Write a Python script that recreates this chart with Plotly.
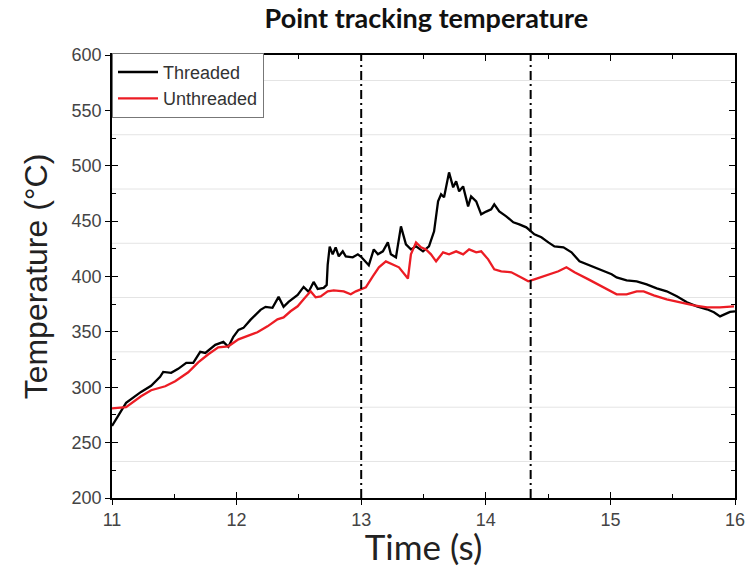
import plotly.graph_objects as go

# ---- data ----
threaded_t = [11.0, 11.113, 11.233, 11.314, 11.386, 11.411, 11.475, 11.531, 11.596, 11.652,
              11.708, 11.749, 11.829, 11.894, 11.934, 11.974, 12.015, 12.055, 12.111, 12.192,
              12.232, 12.288, 12.337, 12.377, 12.417, 12.490, 12.538, 12.578, 12.618, 12.651,
              12.699, 12.723, 12.731, 12.747, 12.771, 12.795, 12.820, 12.852, 12.876, 12.932,
              12.973, 12.997, 13.061, 13.101, 13.134, 13.174, 13.214, 13.238, 13.279, 13.319,
              13.359, 13.399, 13.440, 13.496, 13.544, 13.585, 13.617, 13.641, 13.665, 13.705,
              13.738, 13.762, 13.786, 13.818, 13.858, 13.882, 13.923, 13.963, 14.003, 14.043,
              14.068, 14.108, 14.164, 14.221, 14.269, 14.325, 14.390, 14.446, 14.502, 14.551,
              14.623, 14.688, 14.752, 14.849, 14.945, 15.010, 15.050, 15.130, 15.211, 15.291,
              15.372, 15.452, 15.533, 15.614, 15.694, 15.775, 15.831, 15.880, 15.920, 15.960, 16.0]
threaded_T = [265, 285.9, 295.8, 301.3, 309.4, 313.9, 313.0, 316.6, 322.0, 322.0,
              332.0, 331.0, 338.3, 341.0, 336.5, 345.5, 351.8, 353.6, 360.8, 369.9,
              372.6, 371.7, 381.6, 372.6, 377.1, 383.4, 390.6, 386.1, 395.1, 388.8,
              389.7, 392.4, 410.5, 427.0, 420.0, 426.3, 418.2, 422.7, 418.2, 417.3,
              420.0, 418.0, 410.2, 424.5, 420.0, 422.7, 430.8, 420.0, 417.3, 445.3,
              429.0, 424.5, 427.2, 422.7, 427.2, 440.8, 467.8, 474.2, 471.5, 494.0,
              480.5, 485.9, 476.9, 481.4, 463.3, 472.4, 467.8, 456.1, 458.6, 460.6,
              465.1, 458.8, 454.3, 448.9, 447.1, 444.4, 438.1, 435.4, 430.8, 427.2,
              426.3, 421.8, 413.7, 409.2, 404.7, 402.0, 399.2, 396.5, 395.6, 392.9,
              389.3, 386.6, 382.1, 376.7, 373.1, 370.4, 367.7, 364.0, 366.0, 368.0, 368.5]

unthreaded_t = [11.0, 11.113, 11.233, 11.314, 11.427, 11.507, 11.612, 11.692, 11.773, 11.853,
                11.934, 12.015, 12.167, 12.248, 12.328, 12.377, 12.433, 12.490, 12.538, 12.594,
                12.634, 12.675, 12.731, 12.779, 12.860, 12.916, 12.957, 13.037, 13.093, 13.142,
                13.198, 13.254, 13.303, 13.375, 13.399, 13.440, 13.480, 13.520, 13.560, 13.601,
                13.657, 13.705, 13.762, 13.818, 13.866, 13.923, 13.963, 14.019, 14.068, 14.124,
                14.205, 14.285, 14.341, 14.390, 14.502, 14.583, 14.647, 14.712, 14.824, 14.929,
                15.010, 15.050, 15.130, 15.211, 15.267, 15.348, 15.452, 15.557, 15.670, 15.775,
                15.879, 15.992]
unthreaded_T = [281, 282, 291.8, 297.3, 300.9, 305.4, 313.5, 322.5, 329.8, 336.1,
                337.0, 343.3, 349.6, 355.0, 361.3, 363.1, 368.6, 373.1, 379.4, 386.6,
                381.2, 382.1, 386.6, 387.5, 386.6, 383.9, 386.6, 390.2, 400.2, 408.3,
                413.7, 411.0, 408.3, 398.2, 420.0, 430.8, 426.3, 424.5, 420.0, 413.7,
                421.8, 420.0, 422.7, 420.0, 424.5, 421.8, 422.7, 415.5, 406.5, 404.7,
                403.8, 399.2, 395.6, 397.4, 402.0, 404.7, 408.3, 403.8, 397.4, 391.1,
                386.6, 383.9, 383.9, 386.6, 386.6, 383.0, 379.4, 376.7, 374.0, 372.2,
                372.1, 373.0]

marker_times = [13.0, 14.36]
y_ticks = [200, 250, 300, 350, 400, 450, 500, 550, 600]
x_ticks = [11, 12, 13, 14, 15, 16]
x_range = [11, 16]
y_range = [200, 600]
faint_rules = [233, 282, 332, 381, 430, 479, 528, 577]

fig = go.Figure()
fig.add_trace(go.Scatter(x=threaded_t, y=threaded_T, mode="lines", name="Threaded",
                         line=dict(color="black", width=2.3)))
fig.add_trace(go.Scatter(x=unthreaded_t, y=unthreaded_T, mode="lines", name="Unthreaded",
                         line=dict(color="#ec1c24", width=2.3)))
# empty trace so the overlay (inside-tick) axes are drawn
fig.add_trace(go.Scatter(x=[], y=[], xaxis="x2", yaxis="y2", showlegend=False, hoverinfo="skip"))

for v in faint_rules:
    fig.add_shape(type="line", xref="paper", x0=0, x1=1, yref="y", y0=v, y1=v,
                  line=dict(color="#e4e4e4", width=1), layer="below")
for t in marker_times:
    fig.add_shape(type="line", xref="x", x0=t, x1=t, yref="paper", y0=0, y1=1,
                  line=dict(color="black", width=2, dash="9px,4px,2px,4px"))

tickfont = dict(family="Liberation Sans, Arial", size=18, color="#444")

fig.update_layout(
    width=748, height=567,
    margin=dict(l=112, r=13, t=55, b=69),
    paper_bgcolor="white", plot_bgcolor="white",
    title=dict(text="<b>Point tracking temperature</b>", x=0.57, xanchor="center", y=0.968,
               yanchor="middle", font=dict(family="Lato, Open Sans", size=27, color="#111")),
    legend=dict(x=0.0, y=1.005, xanchor="left", yanchor="top", bgcolor="white",
                bordercolor="#777", borderwidth=1,
                font=dict(family="Liberation Sans, Arial", size=18, color="#333"),
                tracegroupgap=0, itemwidth=40),
    showlegend=True,
    xaxis=dict(range=x_range, tickvals=x_ticks, showline=True, linecolor="black", linewidth=1.5,
               mirror=True, ticks="outside", ticklen=5, tickwidth=1.3, tickcolor="black",
               showgrid=False, zeroline=False, tickfont=tickfont, automargin=False,
               title=dict(text="Time (s)", font=dict(family="Lato, Open Sans", size=35, color="#222"),
                          standoff=4)),
    yaxis=dict(range=y_range, tickvals=y_ticks, showline=True, linecolor="black", linewidth=1.5,
               mirror=True, ticks="outside", ticklen=5, tickwidth=1.3, tickcolor="black",
               showgrid=False, zeroline=False, tickfont=tickfont, automargin=False,
               title=dict(text="Temperature (°C)",
                          font=dict(family="Liberation Sans, Arial", size=32, color="#222"),
                          standoff=14)),
    xaxis2=dict(range=x_range, tickvals=x_ticks, overlaying="x", anchor="y2", side="bottom",
                showline=False, showticklabels=False, mirror="allticks",
                ticks="inside", ticklen=6, tickwidth=1.3, tickcolor="black",
                minor=dict(ticks="inside", dtick=0.5, ticklen=4, tickcolor="black", tickwidth=1.1),
                showgrid=False, zeroline=False),
    yaxis2=dict(range=y_range, tickvals=y_ticks, overlaying="y", anchor="x2", side="left",
                showline=False, showticklabels=False, mirror="allticks",
                ticks="inside", ticklen=6, tickwidth=1.3, tickcolor="black",
                minor=dict(ticks="inside", dtick=25, ticklen=4, tickcolor="black", tickwidth=1.1),
                showgrid=False, zeroline=False),
)

fig.write_html("out.html")
